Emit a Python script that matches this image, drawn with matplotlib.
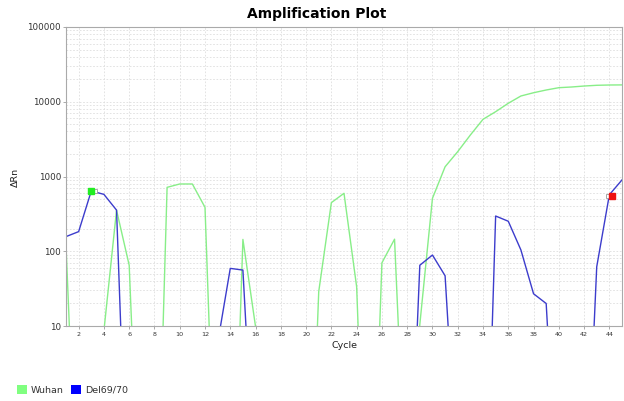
import matplotlib.pyplot as plt
import matplotlib as mpl
from matplotlib.patches import Patch
import numpy as np

mpl.use('Agg')

cycles = list(range(1, 46))

# Delta Rn per cycle (values below 10 fall off the bottom of the log axis)
wuhan = [120, 0.01, 0.01, 8.6, 355, 65, 0.005, 0.001, 716, 794,
         794, 387, 0.006, 0.0013, 144, 9.8, 0.01, 0.01, 0.01, 0.001,
         28.8, 447, 596, 33.5, 0.001, 70, 145, 0.02, 10.5, 511,
         1350, 2150, 3590, 5820, 7360, 9540, 11940, 13200, 14360, 15420,
         15750, 16230, 16600, 16750, 16800]
del6970 = [157, 183, 640, 577, 355, 0.007, 0.01, 0.01, 0.01, 0.01,
           0.01, 0.01, 5.9, 59, 56, 0.043, 0.01, 0.01, 0.01, 0.01,
           0.01, 0.01, 0.01, 0.01, 0.01, 0.01, 0.01, 0.0056, 65, 89,
           47, 0.074, 0.01, 0.001, 296, 252, 104, 27, 20, 0.02,
           0.01, 0.01, 62, 570, 900]

# threshold markers (cycle, value)
start_mark = (3.0, 640)
end_mark = (44.2, 550)

wuhan_color = '#88ee88'
del_color = '#3c3ccc'

fig = plt.figure(figsize=(6.24, 4.01), dpi=100)
ax = fig.add_axes([66 / 624, 1 - 326 / 401, 556 / 624, 299 / 401])

ax.plot(cycles, wuhan, color=wuhan_color, linewidth=1.0)
ax.plot(cycles, del6970, color=del_color, linewidth=1.0)

# little square markers
ax.plot(start_mark[0] + 0.3, start_mark[1], marker='s', markersize=3.5,
        markerfacecolor='white', markeredgecolor='#999999', markeredgewidth=0.6, linestyle='none')
ax.plot(start_mark[0], start_mark[1], marker='s', markersize=4,
        markerfacecolor='#22ee22', markeredgecolor='#22ee22', linestyle='none')
ax.plot(end_mark[0] - 0.3, end_mark[1], marker='s', markersize=3.5,
        markerfacecolor='white', markeredgecolor='#999999', markeredgewidth=0.6, linestyle='none')
ax.plot(end_mark[0], end_mark[1], marker='s', markersize=4,
        markerfacecolor='#ee1111', markeredgecolor='#ee1111', linestyle='none')

ax.set_yscale('log')
ax.set_ylim(10, 100000)
ax.set_xlim(1, 45)

ax.set_xticks(range(2, 45, 2))
ax.xaxis.set_minor_locator(mpl.ticker.NullLocator())
ax.set_yticks([10, 100, 1000, 10000, 100000])
ax.yaxis.set_major_formatter(mpl.ticker.FuncFormatter(lambda y, p: format(int(y), 'd')))
ax.yaxis.set_minor_formatter(mpl.ticker.NullFormatter())

ax.tick_params(axis='x', labelsize=4.6, length=2, width=0.5, color='#888888', pad=2, labelcolor='#333333')
ax.tick_params(axis='y', which='major', labelsize=6.3, length=2, width=0.5, color='#888888', pad=1.5,
               labelcolor='#333333')
ax.tick_params(axis='y', which='minor', length=0)

ax.grid(True, which='major', axis='x', linestyle=(0, (2, 2)), color='#dedede', linewidth=0.6)
ax.grid(True, which='both', axis='y', linestyle=(0, (2, 2)), color='#dedede', linewidth=0.6)
ax.set_axisbelow(True)

for s in ax.spines.values():
    s.set_color('#aaaaaa')
    s.set_linewidth(0.8)

ax.set_xlabel('Cycle', fontsize=6.8, color='#222222', labelpad=3)
ax.set_ylabel('ΔRn', fontsize=6.8, color='#222222')
ax.yaxis.set_label_coords((20 - 66) / 556, (326 - 177) / 299)
fig.text(0.507, 1 - 14 / 401, 'Amplification Plot', ha='center', va='center',
         fontsize=10, fontweight='bold')

handles = [Patch(facecolor='#80ff80', edgecolor='none', label='Wuhan'),
           Patch(facecolor='#0000ff', edgecolor='none', label='Del69/70')]
fig.legend(handles=handles, loc='center left', bbox_to_anchor=(8 / 624, 1 - 390 / 401),
           ncol=2, frameon=False, fontsize=6.8, handlelength=1.1, handleheight=1.1,
           handletextpad=0.4, columnspacing=0.8, labelcolor='#333333')

plt.savefig('out.png', dpi=100)
